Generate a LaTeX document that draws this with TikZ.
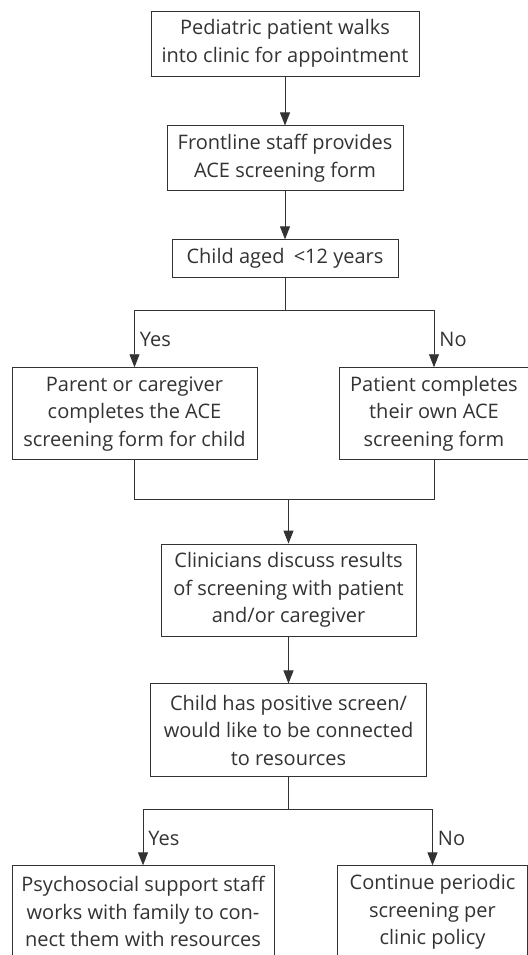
\documentclass[tikz,border=0pt]{standalone}
\usepackage{fontspec}
\setmainfont{Open Sans}
\usepackage{tikz}
\usetikzlibrary{
    arrows.meta,
    positioning,
    calc
}
\definecolor{inkgray}{rgb}{0.2, 0.2, 0.2}
\tikzstyle{stepbox} = [
    rectangle,
    draw=inkgray,
    line width=0.9pt,
    fill=white,
    align=center,
    inner sep=0pt,
    text=inkgray,
    font=\fontsize{20}{27.5}\selectfont
]
\tikzstyle{arrow} = [
    -{Triangle[length=13pt, width=10pt]},
    line width=0.9pt,
    draw=inkgray
]
\tikzstyle{link} = [
    line width=0.9pt,
    draw=inkgray
]
\tikzstyle{answer} = [
    text=inkgray,
    inner sep=0pt,
    font=\fontsize{20}{27.5}\selectfont
]

\begin{document}
\begin{tikzpicture}[x=1pt, y=-1pt]
    \useasboundingbox (0,0) rectangle (527,955);

    % Main flow
    \node[stepbox, minimum width=268pt, minimum height=65pt] (walkin) at (285,43.5)
        {Pediatric patient walks\\into clinic for appointment};
    \node[stepbox, minimum width=236pt, minimum height=65pt, below=49pt of walkin] (form)
        {Frontline staff provides\\ACE screening form};
    \node[stepbox, minimum width=226pt, minimum height=38pt, below=48pt of form] (age)
        {Child aged\hspace{4pt} <12 years};

    \draw[arrow] (walkin) -- (form);
    \draw[arrow] (form) -- (age);

    % Age branches
    \node[stepbox, minimum width=245pt, minimum height=92pt, below=89pt of age, xshift=-150.5pt] (parent)
        {Parent or caregiver\\completes the ACE\\screening form for child};
    \node[stepbox, minimum width=190pt, minimum height=92pt, below=89pt of age, xshift=149pt] (self)
        {Patient completes\\their own ACE\\screening form};

    \draw[link] (age.south) -- ++(0,32) coordinate (split1);
    \draw[arrow] (split1) -| (parent.north) node[answer, pos=0.76, anchor=west, xshift=5pt] {Yes};
    \draw[arrow] (split1) -| (self.north) node[answer, pos=0.76, anchor=west, xshift=5pt] {No};

    % Results
    \node[stepbox, minimum width=255pt, minimum height=92pt] (discuss) at (288.5,590)
        {Clinicians discuss results\\of screening with patient\\and/or caregiver};
    \node[stepbox, minimum width=276pt, minimum height=93pt, below=47pt of discuss] (positive)
        {Child has positive screen/\\would like to be connected\\to resources};

    \draw[link] (parent.south) -- ++(0,39) coordinate (merge) -| (self.south);
    \draw[arrow] (merge -| discuss.north) -- (discuss.north);
    \draw[arrow] (discuss) -- (positive);

    % Outcome branches
    \node[stepbox, minimum width=262pt, minimum height=92pt, below=88pt of positive, xshift=-145.5pt] (support)
        {Psychosocial support staff\\works with family to con-\\nect them with resources};
    \node[stepbox, minimum width=190pt, minimum height=92pt, below=88pt of positive, xshift=144pt] (periodic)
        {Continue periodic\\screening per\\clinic policy};

    \draw[link] (positive.south) -- ++(0,32) coordinate (split2);
    \draw[arrow] (split2) -| (support.north) node[answer, pos=0.76, anchor=west, xshift=5pt] {Yes};
    \draw[arrow] (split2) -| (periodic.north) node[answer, pos=0.76, anchor=west, xshift=5pt] {No};
\end{tikzpicture}
\end{document}
